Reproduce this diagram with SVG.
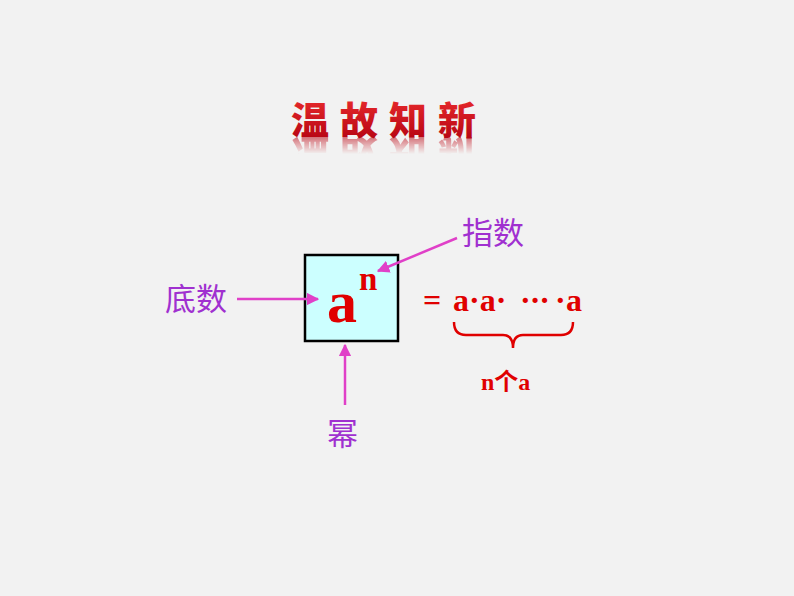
<svg xmlns="http://www.w3.org/2000/svg" xmlns:xlink="http://www.w3.org/1999/xlink" width="794" height="596" viewBox="0 0 794 596">
<style>
.lbl{font-family:"Noto Sans CJK SC","Noto Sans CJK JP",sans-serif;font-size:31px;fill:#a030d0}
.red{font-family:"Liberation Serif","Noto Sans CJK SC",serif;font-weight:bold;fill:#e00000}
.title{font-family:"Noto Sans CJK SC",sans-serif;font-weight:900;font-size:38px;letter-spacing:11px}
.arr{stroke:#e040c8;stroke-width:2.5;fill:none;marker-end:url(#ah)}
</style>
<defs>
<marker id="ah" viewBox="0 0 10 10" refX="9" refY="5" markerWidth="5" markerHeight="5" orient="auto-start-reverse">
<path d="M0,0 L10,5 L0,10 Z" fill="#e040c8"/>
</marker>
<linearGradient id="tg" x1="0" y1="0" x2="0" y2="1">
<stop offset="0" stop-color="#f03030"/>
<stop offset="1" stop-color="#b00010"/>
</linearGradient>
<linearGradient id="mg" gradientUnits="userSpaceOnUse" x1="0" y1="137" x2="0" y2="154">
<stop offset="0" stop-color="#fff" stop-opacity="0.55"/>
<stop offset="1" stop-color="#fff" stop-opacity="0"/>
</linearGradient>
<mask id="rm" maskUnits="userSpaceOnUse" x="0" y="0" width="794" height="596">
<rect x="270" y="137" width="240" height="20" fill="url(#mg)"/>
</mask>
</defs>
<rect width="794" height="596" fill="#f2f2f2"/>
<g id="title">
<text id="t1" class="title" x="291" y="134" fill="url(#tg)">温故知新</text>
<g mask="url(#rm)">
<use xlink:href="#t1" href="#t1" transform="translate(0,274) scale(1,-1)"/>
</g>
</g>
<g id="box">
<rect x="305" y="255" width="93" height="86" fill="#ccffff" stroke="#000" stroke-width="2.5"/>
<text class="red" x="327" y="322" font-size="60">a</text>
<text class="red" x="359" y="290" font-size="33">n</text>
</g>
<g id="base"><text class="lbl" x="165" y="310">底数</text></g>
<g id="exponent"><text class="lbl" x="462" y="244">指数</text></g>
<g id="power"><text class="lbl" x="327" y="445">幂</text></g>
<g id="expansion">
<text class="red" y="311" font-size="32"><tspan x="423">=</tspan><tspan x="453">a·a·</tspan><tspan x="520" letter-spacing="-1">···</tspan><tspan x="555">·</tspan><tspan x="566">a</tspan></text>
<path d="M454,322 Q454,335 466,335 L503,335 Q513,335 513,348 Q513,335 523,335 L561,335 Q573,335 573,322" fill="none" stroke="#e00000" stroke-width="2.5"/>
<text class="red" x="481" y="390" font-size="24">n个a</text>
</g>
<g id="connectors">
<line class="arr" x1="237" y1="299" x2="318" y2="299"/>
<line class="arr" x1="457" y1="238" x2="378" y2="271"/>
<line class="arr" x1="345" y1="405" x2="345" y2="345"/>
</g>
</svg>
